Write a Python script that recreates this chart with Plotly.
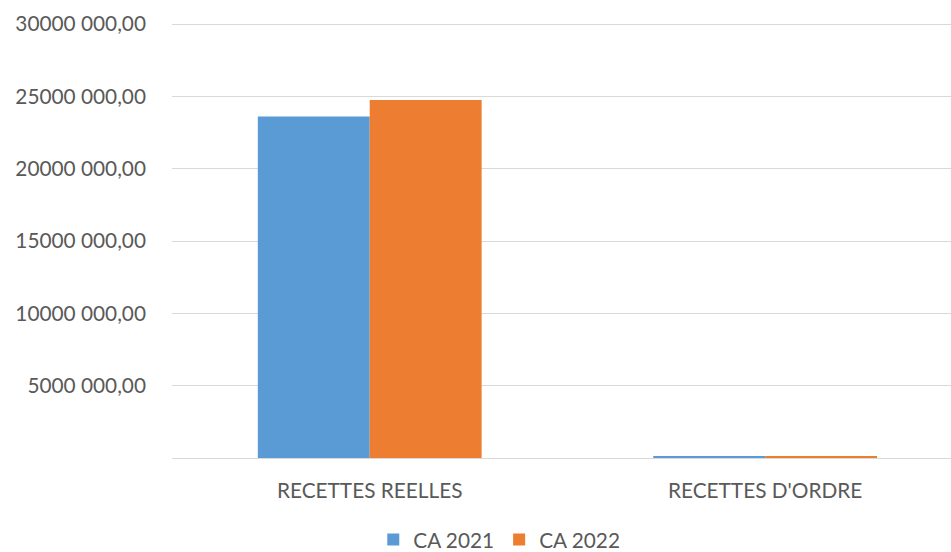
import plotly.graph_objects as go

categories = ["RECETTES REELLES", "RECETTES D'ORDRE"]
ca_2021 = [23610000, 125000]
ca_2022 = [24750000, 140000]
tick_vals = [0, 5000000, 10000000, 15000000, 20000000, 25000000, 30000000]
tick_text = ["", "5000 000,00", "10000 000,00", "15000 000,00",
             "20000 000,00", "25000 000,00", "30000 000,00"]

font_family = "Lato, 'Open Sans', sans-serif"
text_color = "#595959"
font_size = 20.8

fig = go.Figure()
fig.add_trace(go.Bar(name="CA 2021", x=categories, y=ca_2021,
                     marker=dict(color="#5b9bd5", line=dict(width=0))))
fig.add_trace(go.Bar(name="CA 2022", x=categories, y=ca_2022,
                     marker=dict(color="#ed7d31", line=dict(width=0))))

fig.update_layout(
    width=951, height=552,
    margin=dict(l=172, r=0, t=22, b=94, autoexpand=False),
    paper_bgcolor="white", plot_bgcolor="white",
    barmode="group", bargap=0.434, bargroupgap=0.0,
    font=dict(family=font_family, size=font_size, color=text_color),
    legend=dict(orientation="h", xref="container", x=0.525, xanchor="center",
                yref="paper", y=-0.141, yanchor="top",
                font=dict(size=font_size, color=text_color), traceorder="normal",
                itemwidth=30, tracegroupgap=0),
    showlegend=True,
)
fig.update_xaxes(range=[-0.5, 1.47], showgrid=False, showline=False,
                 ticks="", ticklabelstandoff=18, tickangle=0,
                 tickfont=dict(size=font_size, color=text_color))
fig.update_yaxes(range=[0, 30150000], tickvals=tick_vals, ticktext=tick_text,
                 showgrid=True, gridcolor="#d9d9d9", gridwidth=1.3,
                 zeroline=True, zerolinecolor="#d9d9d9", zerolinewidth=1.3,
                 showline=False, ticks="", ticklabelstandoff=25,
                 tickfont=dict(size=font_size, color=text_color))

fig.write_html("out.html")
